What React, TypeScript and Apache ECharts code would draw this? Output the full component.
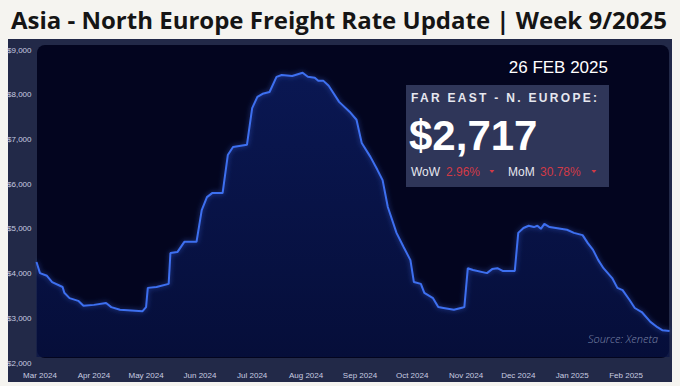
import React, { useEffect, useRef } from "react";
import * as echarts from "echarts";

// ---- Data ----
const rateDates = [
  "2024-02-28", "2024-03-01", "2024-03-05", "2024-03-08", "2024-03-14", "2024-03-15",
  "2024-03-18", "2024-03-23", "2024-03-26", "2024-04-01", "2024-04-08", "2024-04-11",
  "2024-04-16", "2024-04-29", "2024-05-01", "2024-05-02", "2024-05-07", "2024-05-14",
  "2024-05-15", "2024-05-19", "2024-05-23", "2024-05-30", "2024-06-02", "2024-06-05",
  "2024-06-08", "2024-06-14", "2024-06-17", "2024-06-20", "2024-06-28", "2024-07-01",
  "2024-07-04", "2024-07-07", "2024-07-11", "2024-07-15", "2024-07-18", "2024-07-24",
  "2024-07-30", "2024-08-02", "2024-08-06", "2024-08-08", "2024-08-11", "2024-08-14",
  "2024-08-20", "2024-08-26", "2024-08-30", "2024-09-02", "2024-09-07", "2024-09-11",
  "2024-09-14", "2024-09-17", "2024-09-22", "2024-09-26", "2024-09-30", "2024-10-02",
  "2024-10-06", "2024-10-08", "2024-10-13", "2024-10-16", "2024-10-19", "2024-10-25",
  "2024-10-29", "2024-10-31", "2024-11-02", "2024-11-05", "2024-11-13", "2024-11-16",
  "2024-11-19", "2024-11-22", "2024-11-29", "2024-12-01", "2024-12-04", "2024-12-07",
  "2024-12-10", "2024-12-12", "2024-12-14", "2024-12-16", "2024-12-19", "2024-12-29",
  "2025-01-02", "2025-01-07", "2025-01-10", "2025-01-13", "2025-01-16", "2025-01-19",
  "2025-01-24", "2025-01-27", "2025-01-30", "2025-02-03", "2025-02-06", "2025-02-10",
  "2025-02-15", "2025-02-19", "2025-02-22", "2025-02-26",
];
const rateValues = [
  4260, 4010, 3950, 3810, 3700, 3570,
  3450, 3390, 3280, 3300, 3340, 3250,
  3190, 3160, 3250, 3680, 3700, 3770,
  4460, 4480, 4710, 4710, 5420, 5710,
  5800, 5800, 6650, 6830, 6880, 7700,
  7950, 8020, 8060, 8400, 8440, 8420,
  8490, 8400, 8380, 8310, 8310, 8200,
  7840, 7620, 7440, 6920, 6610, 6320,
  6090, 5490, 4910, 4600, 4300, 3810,
  3770, 3570, 3450, 3250, 3230, 3190,
  3230, 3250, 4120, 4080, 4010, 4100,
  4120, 4060, 4060, 4910, 5020, 5070,
  5040, 5070, 5000, 5110, 5040, 4980,
  4910, 4860, 4680, 4530, 4300, 4120,
  3900, 3680, 3630, 3410, 3230, 3140,
  2920, 2800, 2730, 2717,
];
const xTickDates = [
  "2024-03-01", "2024-04-01", "2024-05-01", "2024-06-01", "2024-07-01", "2024-08-01",
  "2024-09-01", "2024-10-01", "2024-11-01", "2024-12-01", "2025-01-01", "2025-02-01",
];
const xTickLabels = [
  "Mar 2024", "Apr 2024", "May 2024", "Jun 2024", "Jul 2024", "Aug 2024",
  "Sep 2024", "Oct 2024", "Nov 2024", "Dec 2024", "Jan 2025", "Feb 2025",
];
const xRange = ["2024-02-28", "2025-02-27"];
const yMin = 2000;
const yMax = 9000;
const yStep = 1000;

const titleText = "Asia - North Europe Freight Rate Update | Week 9/2025";
const dateText = "26 FEB 2025";
const routeText = "FAR EAST - N. EUROPE:";
const priceText = "$2,717";
const wowLabel = "WoW";
const wowValue = "2.96%";
const momLabel = "MoM";
const momValue = "30.78%";
const sourceText = "Source: Xeneta";

const ts = (s: string) => {
  const [y, m, d] = s.split("-").map(Number);
  return new Date(y, m - 1, d).getTime();
};

export default function App() {
  const ref = useRef<HTMLDivElement>(null);

  useEffect(() => {
    if (!ref.current) return;
    const chart = echarts.init(ref.current, undefined, { renderer: "svg" });
    const tickTs = xTickDates.map(ts);
    const seriesData = rateDates.map((d, i) => [ts(d), rateValues[i]]);
    const labelFont = "'Liberation Sans Narrow', 'Arial Narrow', Arial, sans-serif";
    const sans = "'Liberation Sans', Arial, Helvetica, sans-serif";

    chart.setOption({
      animation: false,
      backgroundColor: "#f5f4f0",
      grid: { left: 36.5, right: 8.7, top: 50, bottom: 23, containLabel: false },
      xAxis: {
        type: "value",
        min: ts(xRange[0]),
        max: ts(xRange[1]),
        z: 10,
        axisLine: { show: false },
        axisTick: { show: false },
        splitLine: { show: false },
        axisLabel: {
          customValues: tickTs,
          formatter: (v: number) => {
            const i = tickTs.indexOf(v);
            return i >= 0 ? xTickLabels[i] : "";
          },
          color: "#c8cce0",
          fontSize: 8,
          fontFamily: labelFont,
          margin: 8,
          hideOverlap: false,
        },
      },
      yAxis: {
        type: "value",
        min: yMin,
        max: yMax,
        interval: yStep,
        z: 10,
        axisLine: { show: false },
        axisTick: { show: false },
        splitLine: { show: false },
        axisLabel: {
          formatter: (v: number) => "$" + v.toLocaleString("en-US"),
          color: "#c8cce0",
          fontSize: 8,
          fontFamily: labelFont,
          margin: 5,
          showMinLabel: true,
          showMaxLabel: true,
        },
      },
      series: [
        {
          type: "line",
          data: seriesData,
          showSymbol: false,
          symbol: "none",
          z: 5,
          lineStyle: {
            color: "#3e6ff0",
            width: 2,
            shadowColor: "rgba(70,120,255,0.55)",
            shadowBlur: 5,
          },
          areaStyle: {
            origin: 2134,
            color: new echarts.graphic.LinearGradient(0, 0, 0, 1, [
              { offset: 0, color: "#0d1f68" },
              { offset: 1, color: "#071245" },
            ]),
          },
        },
      ],
      graphic: [
        {
          type: "rect",
          z: -10,
          shape: { x: 8, y: 39, width: 664, height: 343 },
          style: { fill: "#222948" },
        },
        {
          type: "rect",
          z: -9,
          shape: { x: 37, y: 45, width: 632, height: 313, r: 8 },
          style: { fill: "#03051f" },
        },
        {
          type: "text",
          z: 50,
          x: 339,
          y: 19,
          style: {
            text: titleText,
            fill: "#151515",
            font: "700 24px 'Open Sans', 'Noto Sans', sans-serif",
            align: "center",
            verticalAlign: "middle",
          },
        },
        {
          type: "text",
          z: 50,
          x: 608,
          y: 67,
          style: {
            text: dateText,
            fill: "#ffffff",
            font: `17px ${sans}`,
            align: "right",
            verticalAlign: "middle",
          },
        },
        {
          type: "rect",
          z: 40,
          shape: { x: 406, y: 85, width: 203, height: 102 },
          style: { fill: "#2f3659" },
        },
        {
          type: "text",
          z: 50,
          x: 411,
          y: 98,
          style: {
            text: routeText,
            fill: "#e6e7ef",
            font: `bold 12px ${sans}`,
            align: "left",
            verticalAlign: "middle",
          },
        },
        {
          type: "text",
          z: 50,
          x: 409,
          y: 135,
          style: {
            text: priceText,
            fill: "#ffffff",
            font: `bold 42px ${sans}`,
            align: "left",
            verticalAlign: "middle",
          },
        },
        {
          type: "text",
          z: 50,
          x: 411,
          y: 172,
          style: { text: wowLabel, fill: "#e6e7ef", font: `12px ${sans}`, align: "left", verticalAlign: "middle" },
        },
        {
          type: "text",
          z: 50,
          x: 446,
          y: 172,
          style: { text: wowValue, fill: "#d23a47", font: `12px ${sans}`, align: "left", verticalAlign: "middle" },
        },
        {
          type: "polygon",
          z: 50,
          shape: { points: [[489.5, 170], [494.5, 170], [492, 173]] },
          style: { fill: "#d23a47" },
        },
        {
          type: "text",
          z: 50,
          x: 508,
          y: 172,
          style: { text: momLabel, fill: "#e6e7ef", font: `12px ${sans}`, align: "left", verticalAlign: "middle" },
        },
        {
          type: "text",
          z: 50,
          x: 540,
          y: 172,
          style: { text: momValue, fill: "#d23a47", font: `12px ${sans}`, align: "left", verticalAlign: "middle" },
        },
        {
          type: "polygon",
          z: 50,
          shape: { points: [[591.5, 170], [596.5, 170], [594, 173]] },
          style: { fill: "#d23a47" },
        },
        {
          type: "text",
          z: 50,
          x: 658,
          y: 338,
          style: {
            text: sourceText,
            fill: "#7d86aa",
            font: "italic 300 11px 'Open Sans', sans-serif",
            align: "right",
            verticalAlign: "middle",
          },
        },
      ],
    });

    const el = ref.current;
    el.querySelectorAll("text").forEach((t) => {
      if (t.textContent === routeText) t.setAttribute("letter-spacing", "2.3");
    });

    return () => chart.dispose();
  }, []);

  return (
    <div
      ref={ref}
      style={{ position: "fixed", left: 0, top: 0, width: 680, height: 386 }}
    />
  );
}
